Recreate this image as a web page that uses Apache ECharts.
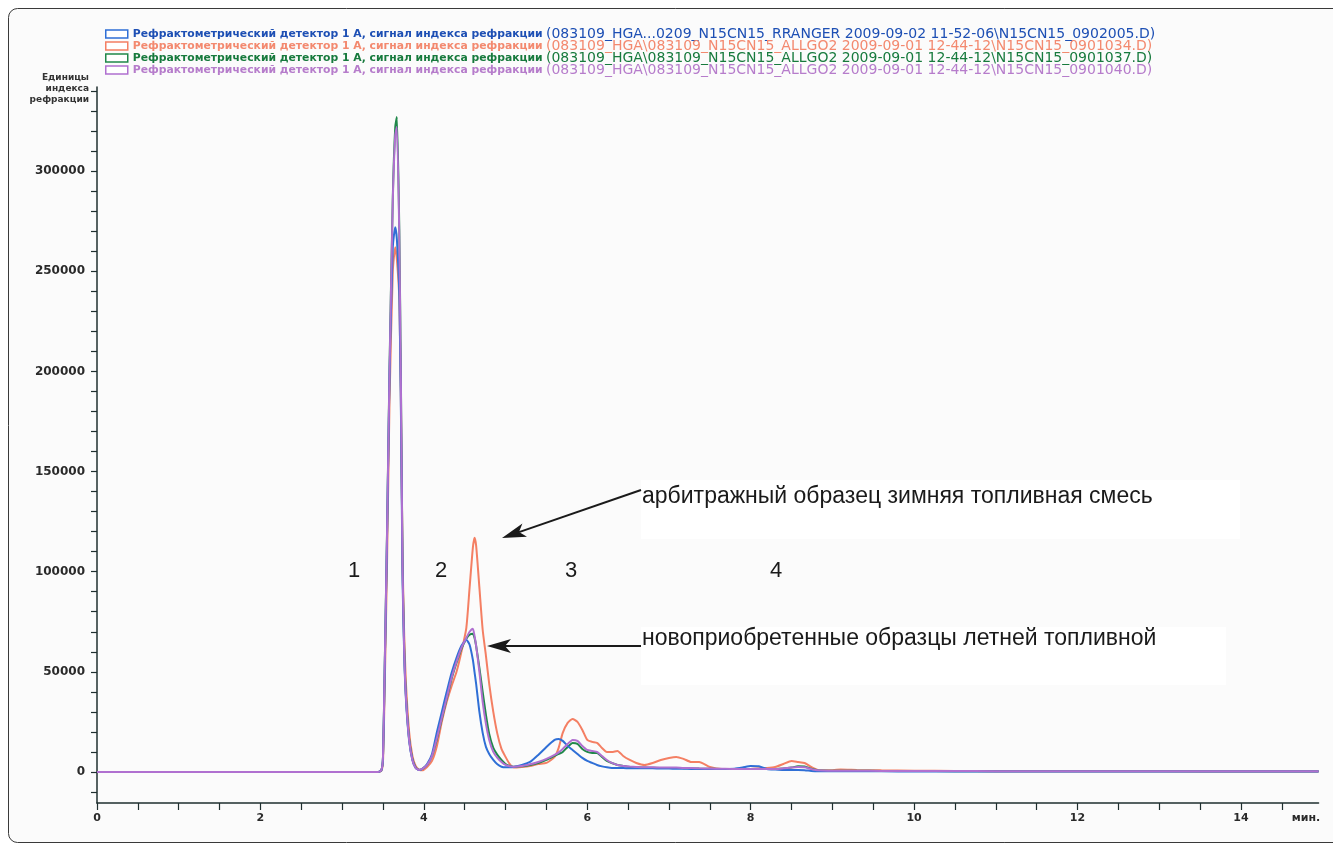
<!DOCTYPE html>
<html>
<head>
<meta charset="utf-8">
<script src="https://cdn.jsdelivr.net/npm/echarts@6/dist/echarts.min.js"></script>
<style>
html,body{margin:0;padding:0;background:#ffffff;}
#chart{width:1333px;height:849px;}
</style>
</head>
<body>
<div id="chart"></div>
<script>
// ---- data ----
const legendMain = 'Рефрактометрический детектор 1 A, сигнал индекса рефракции';
const legendFiles = [
  '(083109_HGA...0209_N15CN15_RRANGER 2009-09-02 11-52-06\\N15CN15_0902005.D)',
  '(083109_HGA\\083109_N15CN15_ALLGO2 2009-09-01 12-44-12\\N15CN15_0901034.D)',
  '(083109_HGA\\083109_N15CN15_ALLGO2 2009-09-01 12-44-12\\N15CN15_0901037.D)',
  '(083109_HGA\\083109_N15CN15_ALLGO2 2009-09-01 12-44-12\\N15CN15_0901040.D)'
];
const yAxisTitle = 'Единицы\nиндекса\nрефракции';
const xUnit = 'мин.';
const peakLabels = ['1', '2', '3', '4'];
const noteWinter = 'арбитражный образец зимняя топливная смесь';
const noteSummer = 'новоприобретенные образцы летней топливной';

const xTickLabels = [0, 2, 4, 6, 8, 10, 12, 14];
const yTickLabels = [0, 50000, 100000, 150000, 200000, 250000, 300000];

const time = [
  0, 1, 2, 3, 3.44, 3.48, 3.50, 3.52, 3.55, 3.58,
  3.62, 3.65, 3.67, 3.70, 3.72, 3.74, 3.76, 3.78, 3.82, 3.86,
  3.90, 3.94, 3.98, 4.04, 4.10, 4.16, 4.22, 4.28, 4.34, 4.40,
  4.46, 4.52, 4.56, 4.60, 4.62, 4.64, 4.68, 4.72, 4.76, 4.80,
  4.85, 4.90, 4.95, 5.00, 5.05, 5.10, 5.20, 5.30, 5.40, 5.50,
  5.60, 5.65, 5.70, 5.76, 5.82, 5.88, 5.94, 6.00, 6.06, 6.12,
  6.18, 6.24, 6.30, 6.37, 6.44, 6.52, 6.60, 6.70, 6.80, 6.90,
  7.00, 7.09, 7.18, 7.27, 7.37, 7.50, 7.65, 7.80, 7.90, 8.00,
  8.10, 8.20, 8.30, 8.40, 8.50, 8.58, 8.66, 8.74, 8.82, 8.95,
  9.10, 9.30, 9.60, 10.0, 10.5, 11.0, 12.0, 13.0, 14.0, 14.95
];

const blueValues = [
  0, 0, 0, 0, 0, 800, 7000, 48000, 118000, 198000,
  262000, 272000, 266000, 238000, 178000, 95000, 58000, 37000, 15500, 6000,
  2000, 1000, 1500, 4000, 9000, 20000, 30000, 40000, 49500, 57000,
  63000, 66000, 63500, 56000, 50000, 44000, 30000, 19500, 12500, 9000,
  6000, 3800, 2600, 2300, 2300, 2500, 3500, 5000, 8500, 12500,
  16000, 16500, 15500, 13000, 11000, 9000, 7000, 5500, 4500, 3500,
  2800, 2300, 2000, 2000, 2000, 1800, 1800, 1800, 1800, 1700,
  1700, 1600, 1600, 1500, 1500, 1500, 1500, 1600, 2200, 3000,
  2800, 1500, 1200, 1000, 1000, 1000, 900, 500, 300, 300,
  300, 300, 300, 200, 200, 200, 200, 200, 200, 200
];
const redValues = [
  0, 0, 0, 0, 0, 600, 5000, 40000, 105000, 185000,
  250000, 262000, 256000, 236000, 182000, 106000, 68000, 45000, 20000, 8000,
  3000, 1200, 800, 2500, 5500, 13000, 25000, 35000, 43000, 50000,
  60000, 72000, 92000, 112000, 117000, 113000, 92000, 71000, 58000, 44000,
  30000, 19000, 11500, 7500, 4000, 2200, 2500, 3000, 4000, 4500,
  7500, 12000, 19500, 24500, 26500, 25000, 21000, 16000, 15000, 14500,
  12000, 10000, 10000, 10500, 8000, 6000, 4500, 3500, 4500, 6000,
  7000, 7500, 6500, 5000, 5000, 2500, 1500, 1500, 1500, 1500,
  1800, 2000, 2500, 4000, 5500, 5000, 4500, 2500, 1000, 800,
  1200, 1000, 800, 600, 500, 400, 300, 300, 200, 200
];
const greenValues = [
  0, 0, 0, 0, 0, 900, 7500, 50000, 121000, 202000,
  287000, 322000, 327000, 270000, 192000, 102000, 61000, 39000, 16500, 6500,
  2200, 1000, 1500, 3500, 8000, 16500, 26500, 36500, 46500, 54500,
  61500, 66500, 68500, 69000, 67000, 63000, 52000, 40000, 28500, 19000,
  12000, 8500, 6000, 4000, 3000, 2600, 2800, 3500, 4500, 6000,
  8000, 9000, 10000, 12500, 14500, 14000, 11500, 10000, 9500, 9500,
  7500, 5500, 4500, 3500, 3000, 2500, 2300, 2200, 2100, 2000,
  2000, 2000, 1900, 1800, 1700, 1600, 1500, 1500, 1500, 1500,
  1500, 1500, 1500, 1700, 2200, 2800, 2700, 1600, 800, 600,
  600, 600, 500, 500, 400, 400, 300, 300, 300, 300
];
const purpleValues = [
  0, 0, 0, 0, 0, 900, 7500, 50000, 120000, 200000,
  285000, 318000, 322000, 266000, 190000, 100000, 60000, 38000, 16000, 6000,
  2000, 1000, 1500, 3500, 8000, 17000, 27000, 37000, 47000, 55000,
  62000, 67000, 70000, 71500, 68000, 63000, 50000, 35000, 24000, 16000,
  10000, 7000, 5000, 3500, 2800, 2600, 3000, 3800, 5000, 6500,
  8500, 9800, 11500, 14000, 16000, 15500, 13000, 11000, 10500, 10000,
  8000, 6000, 4500, 3500, 3000, 2700, 2500, 2300, 2300, 2200,
  2200, 2200, 2000, 2000, 1800, 1700, 1600, 1500, 1500, 1500,
  1500, 1500, 1500, 1800, 2200, 2500, 2300, 1500, 800, 600,
  600, 600, 500, 500, 500, 400, 400, 300, 300, 300
];

// ---- styling ----
const lineColors = ['#2f6fd6', '#f47f63', '#20884a', '#b070d0'];
const textColors = ['#1d4fb4', '#f3896f', '#177a3d', '#b67ccb'];
const seriesValues = [blueValues, redValues, greenValues, purpleValues];
const seriesNames = legendFiles.map(f => legendMain + ' ' + f);
const drawOrder = [1, 2, 0, 3];

const X_MAX = 14.95, Y_MIN = -15500, Y_MAX = 342000;

const xTicks = [];
for (let v = 0; v <= 14.5; v += 0.5) xTicks.push(v);
const yTicks = [];
for (let v = -10000; v <= 340000; v += 10000) yTicks.push(v);

const chart = echarts.init(document.getElementById('chart'), null, {renderer: 'canvas'});

function arrow(tail, tip, len, half) {
  const dx = tip[0] - tail[0], dy = tip[1] - tail[1];
  const L = Math.sqrt(dx * dx + dy * dy);
  const ux = dx / L, uy = dy / L;
  const nx = -uy, ny = ux;
  const bx = tip[0] - ux * len, by = tip[1] - uy * len;
  const notch = [tip[0] - ux * len * 0.75, tip[1] - uy * len * 0.75];
  return [
    {type: 'polyline', z: 100, shape: {points: [tail, notch]}, style: {stroke: '#1a1a1a', lineWidth: 2}},
    {type: 'polygon', z: 100, shape: {points: [tip, [bx + nx * half, by + ny * half], notch, [bx - nx * half, by - ny * half]]}, style: {fill: '#1a1a1a'}}
  ];
}

const peakLabelPos = [[354, 571], [441, 571], [571, 571], [776, 571]];
const noteFont = '23px "Liberation Sans", Arial, sans-serif';

const graphics = [
  {type: 'rect', z: -10, shape: {x: 8.5, y: 8.5, width: 1400, height: 834, r: 9}, style: {fill: '#fbfbfb', stroke: '#3a3a3a', lineWidth: 1}},
  {type: 'rect', z: -5, shape: {x: 641, y: 480, width: 599, height: 59}, style: {fill: '#ffffff'}},
  {type: 'rect', z: -5, shape: {x: 641, y: 627, width: 585, height: 58}, style: {fill: '#ffffff'}},
  {type: 'text', z: 100, style: {text: noteWinter, x: 642, y: 497, font: noteFont, fill: '#1a1a1a', textAlign: 'left', textVerticalAlign: 'middle', align: 'left', verticalAlign: 'middle'}},
  {type: 'text', z: 100, style: {text: noteSummer, x: 642, y: 639, font: noteFont, fill: '#1a1a1a', textAlign: 'left', textVerticalAlign: 'middle', align: 'left', verticalAlign: 'middle'}},
  {type: 'text', z: 100, style: {text: yAxisTitle, x: 89, y: 72, font: 'bold 9px "DejaVu Sans", sans-serif', lineHeight: 11, fill: '#333', textAlign: 'right', align: 'right', textVerticalAlign: 'top', verticalAlign: 'top'}},
  {type: 'text', z: 100, style: {text: xUnit, x: 1306, y: 818, font: 'bold 11px "DejaVu Sans", sans-serif', fill: '#2a2a2a', textAlign: 'center', align: 'center', textVerticalAlign: 'middle', verticalAlign: 'middle'}}
].concat(
  peakLabels.map((t, i) => ({type: 'text', z: 100, style: {text: t, x: peakLabelPos[i][0], y: peakLabelPos[i][1], font: '22px "Liberation Sans Narrow", "Liberation Sans", sans-serif', fill: '#1a1a1a', textAlign: 'center', align: 'center', textVerticalAlign: 'middle', verticalAlign: 'middle'}}))
).concat(arrow([641, 490], [502, 538], 24, 7)).concat(arrow([641, 646], [487, 646], 24, 7));

const option = {
  backgroundColor: '#ffffff',
  animation: false,
  grid: {left: 97, right: 1333 - 97 - 81.71 * X_MAX, top: 87, bottom: 46, containLabel: false},
  legend: {
    orient: 'vertical',
    left: 105,
    top: 27,
    padding: 0,
    itemWidth: 22,
    itemHeight: 8,
    itemGap: -2,
    icon: 'rect',
    selectedMode: false,
    data: seriesNames.map((n, i) => ({
      name: n,
      textStyle: {color: textColors[i]},
      itemStyle: {color: '#ffffff', borderColor: lineColors[i], borderWidth: 1.5}
    })),
    formatter: function (name) {
      const i = seriesNames.indexOf(name);
      return '{b|' + legendMain + '} {n|' + legendFiles[i] + '}';
    },
    textStyle: {
      lineHeight: 12,
      rich: {
        b: {fontFamily: '"DejaVu Sans", sans-serif', fontWeight: 'bold', fontSize: 10.8, lineHeight: 12},
        n: {fontFamily: '"DejaVu Sans", sans-serif', fontSize: 14, lineHeight: 12}
      }
    }
  },
  xAxis: {
    type: 'value',
    min: 0,
    max: X_MAX,
    axisLine: {show: true, onZero: false, lineStyle: {color: '#1f2f2f', width: 1.5}},
    axisTick: {show: true, length: 7, customValues: xTicks, lineStyle: {color: '#1f2f2f', width: 1.2}},
    axisLabel: {customValues: xTickLabels, margin: 10, fontFamily: '"DejaVu Sans", sans-serif', fontWeight: 'bold', fontSize: 11, color: '#2a2a2a', formatter: v => String(v)},
    splitLine: {show: false}
  },
  yAxis: {
    type: 'value',
    min: Y_MIN,
    max: Y_MAX,
    axisLine: {show: true, lineStyle: {color: '#1f2f2f', width: 1.5}},
    axisTick: {show: true, length: 6, customValues: yTicks, lineStyle: {color: '#1f2f2f', width: 1.2}},
    axisLabel: {customValues: yTickLabels, margin: 12, fontFamily: '"DejaVu Sans", sans-serif', fontWeight: 'bold', fontSize: 12, color: '#2a2a2a', formatter: v => String(v)},
    splitLine: {show: false}
  },
  graphic: graphics,
  series: drawOrder.map(i => ({
    name: seriesNames[i],
    type: 'line',
    data: time.map((t, k) => [t, seriesValues[i][k]]),
    showSymbol: false,
    symbol: 'none',
    smooth: 0.2,
    color: lineColors[i],
    lineStyle: {color: lineColors[i], width: 2},
    z: 2 + drawOrder.indexOf(i)
  }))
};
chart.setOption(option);
</script>
</body>
</html>
